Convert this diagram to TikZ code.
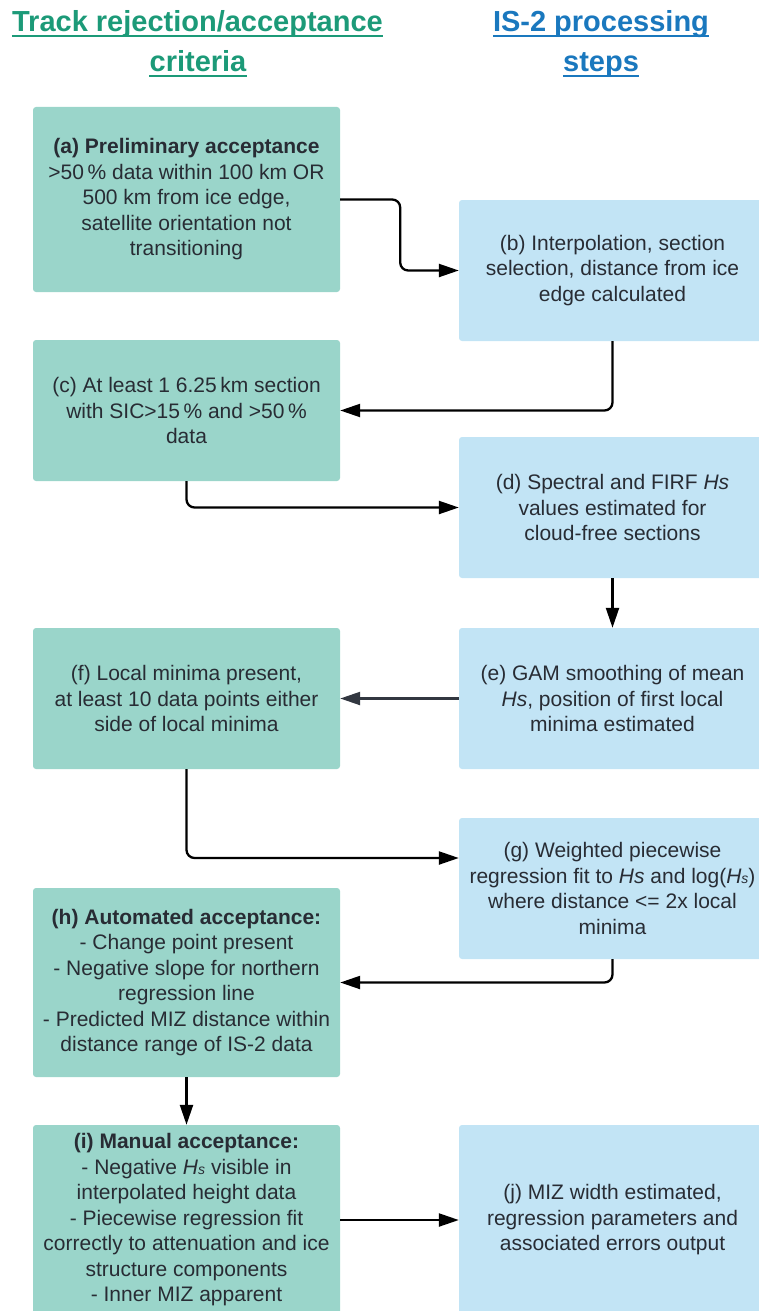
\documentclass[tikz,border=0pt]{standalone}
\usepackage{fontspec}
\setmainfont{Liberation Sans}
\usetikzlibrary{arrows.meta}
\definecolor{gfill}{RGB}{154,213,202}
\definecolor{bfill}{RGB}{194,228,245}
\definecolor{hgreen}{RGB}{28,154,120}
\definecolor{hblue}{RGB}{26,120,190}
\definecolor{txt}{RGB}{40,44,52}
\definecolor{darkconn}{RGB}{50,55,64}
\newcommand{\Hit}{\textit{Hs}}
\newcommand{\Hsub}{\textit{H}{\fontsize{14}{14}\selectfont\textit{s}}}
\begin{document}
\begin{tikzpicture}[x=1pt,y=-1pt,
  hdr/.style={font=\fontsize{29}{39}\selectfont\bfseries, inner sep=0pt, anchor=base},
  box/.style={rounded corners=3pt, minimum width=307pt, inner sep=0pt, align=center,
    text=txt, font=\fontsize{21}{25.5}\selectfont},
  gbox/.style={box, fill=gfill},
  bbox/.style={box, fill=bfill},
  conn/.style={line width=2.3pt, rounded corners=8pt, -{Triangle[length=20pt,width=13pt]}},
  uline/.style={line width=2pt}
]
\useasboundingbox (0,0) rectangle (759,1311);
\clip (0,0) rectangle (759,1311);

% headers
\node[hdr, text=hgreen] (h1a) at (197.5,32) {Track rejection/acceptance};
\node[hdr, text=hgreen] (h1b) at (198,72) {criteria};
\node[hdr, text=hblue] (h2a) at (601,32) {IS-2 processing};
\node[hdr, text=hblue] (h2b) at (601,72) {steps};
\draw[uline, hgreen] ([yshift=-4.5pt]h1a.base west) -- ([yshift=-4.5pt]h1a.base east);
\draw[uline, hgreen] ([yshift=-4.5pt]h1b.base west) -- ([yshift=-4.5pt]h1b.base east);
\draw[uline, hblue] ([yshift=-4.5pt]h2a.base west) -- ([yshift=-4.5pt]h2a.base east);
\draw[uline, hblue] ([yshift=-4.5pt]h2b.base west) -- ([yshift=-4.5pt]h2b.base east);

% left column
\node[gbox, minimum height=185pt] (a) at (186.5,199.5)
  {\textbf{(a) Preliminary acceptance}\\ >50\,\% data within 100 km OR\\ 500 km from ice edge,\\ satellite orientation not\\ transitioning};
\node[gbox, minimum height=141pt] (c) at (186.5,410.5)
  {(c) At least 1 6.25\,km section\\ with SIC>15\,\% and >50\,\%\\ data};
\node[gbox, minimum height=141pt] (f) at (186.5,698.5)
  {(f) Local minima present,\\ at least 10 data points either\\ side of local minima};
\node[gbox, minimum height=189pt] (h) at (186.5,982.5)
  {\textbf{(h) Automated acceptance:}\\ - Change point present\\ - Negative slope for northern\\ regression line\\ - Predicted MIZ distance within\\ distance range of IS-2 data};
\node[gbox, minimum height=190pt] (i) at (186.5,1220)
  {\textbf{(i) Manual acceptance:}\\ - Negative \Hsub{} visible in\\ interpolated height data\\ - Piecewise regression fit\\ correctly to attenuation and ice\\ structure components\\ - Inner MIZ apparent};

% right column
\node[bbox, minimum height=141pt] (b) at (612.5,270.5)
  {(b) Interpolation, section\\ selection, distance from ice\\ edge calculated};
\node[bbox, minimum height=141pt] (d) at (612.5,507.5)
  {(d) Spectral and FIRF \Hit\\ values estimated for\\ cloud-free sections};
\node[bbox, minimum height=141pt] (e) at (612.5,698.5)
  {(e) GAM smoothing of mean\\ \Hit, position of first local\\ minima estimated};
\node[bbox, minimum height=141pt] (g) at (612.5,888.5)
  {(g) Weighted piecewise\\ regression fit to \Hit{} and log(\Hsub)\\ where distance <= 2x local\\ minima};
\node[bbox, minimum height=190pt] (j) at (612.5,1220)
  {(j) MIZ width estimated,\\ regression parameters and\\ associated errors output};

% connectors
\draw[conn] (a.east) -- ++(60,0) |- (b.west);
\draw[conn] (b.south) |- (c.east);
\draw[conn] (c.south) |- (d.west);
\draw[conn] (d.south) -- (e.north);
\draw[conn, darkconn] (e.west) -- (f.east);
\draw[conn] (f.south) |- ([yshift=30.5pt]g.west);
\draw[conn] (g.south) |- (h.east);
\draw[conn] (h.south) -- (i.north);
\draw[conn] (i.east) -- (j.west);
\end{tikzpicture}
\end{document}
